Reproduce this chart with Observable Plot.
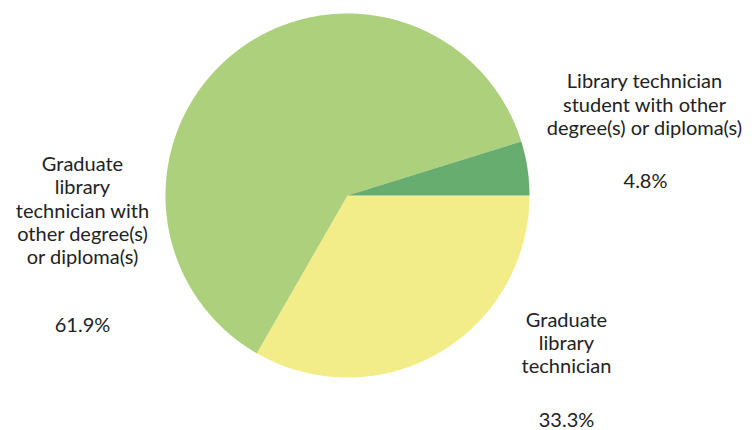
<!DOCTYPE html>
<html>
<head>
<meta charset="utf-8">
<script src="https://cdn.jsdelivr.net/npm/d3@7"></script>
<script src="https://cdn.jsdelivr.net/npm/@observablehq/plot@0.6"></script>
<style>
  html, body { margin: 0; padding: 0; background: #fff; }
  #chart { width: 755px; height: 430px; }
</style>
</head>
<body>
<div id="chart"></div>
<script>
// ---- data ----
const categories = [
  "Graduate library technician",
  "Graduate library technician with other degree(s) or diploma(s)",
  "Library technician student with other degree(s) or diploma(s)"
];
const values = [33.3, 61.9, 4.8];
const labelLines = [
  "Graduate\nlibrary\ntechnician",
  "Graduate\nlibrary\ntechnician with\nother degree(s)\nor diploma(s)",
  "Library technician\nstudent with other\ndegree(s) or diploma(s)"
];
const percentLabels = ["33.3%", "61.9%", "4.8%"];

// ---- style / layout ----
const colors = ["#f3ed89", "#acd07b", "#68ad70"];
const W = 755, H = 430, CX = 347, CY = 195, R = 182;
// pixel anchors for label blocks and percentage labels
const labelPos = [[566, 342], [82, 209.5], [644, 103.5]];
const pctPos = [[566, 420], [82, 325], [645, 181]];

const rows = categories.map((c, i) => ({category: c, value: values[i]}));
const pie = d3.pie().sort(null).value(d => d.value).startAngle(Math.PI / 2).endAngle(Math.PI / 2 + 2 * Math.PI);
const arcs = pie(rows);

// polygon outline of each slice in unit coordinates (y up)
const pts = [];
for (const a of arcs) {
  const cat = a.data.category;
  pts.push({category: cat, x: 0, y: 0});
  const n = Math.max(2, Math.ceil((a.endAngle - a.startAngle) / (Math.PI / 360)));
  for (let k = 0; k <= n; k++) {
    const t = a.startAngle + (a.endAngle - a.startAngle) * k / n;
    pts.push({category: cat, x: Math.sin(t), y: Math.cos(t)});
  }
  pts.push({category: cat, x: 0, y: 0});
}

const toU = ([px, py]) => ({x: (px - CX) / R, y: (CY - py) / R});
const labels = categories.map((c, i) => ({text: labelLines[i], ...toU(labelPos[i])}));
const pcts = categories.map((c, i) => ({text: percentLabels[i], ...toU(pctPos[i])}));

const chart = Plot.plot({
  width: W,
  height: H,
  margin: 0,
  style: {fontFamily: "Lato, sans-serif", background: "#fff"},
  x: {type: "linear", domain: [-CX / R, (W - CX) / R], axis: null},
  y: {type: "linear", domain: [(CY - H) / R, CY / R], axis: null},
  color: {domain: categories, range: colors},
  marks: [
    Plot.line(pts, {x: "x", y: "y", z: "category", fill: "category", stroke: "none", curve: "linear-closed"}),
    Plot.text(labels, {x: "x", y: "y", text: "text", fontSize: 20, fontWeight: 400, lineHeight: 1.17, lineAnchor: "middle", textAnchor: "middle", fill: "#222"}),
    Plot.text(pcts, {x: "x", y: "y", text: "text", fontSize: 20, fontWeight: 400, lineAnchor: "middle", textAnchor: "middle", fill: "#222"})
  ]
});
document.getElementById("chart").appendChild(chart);
</script>
</body>
</html>
